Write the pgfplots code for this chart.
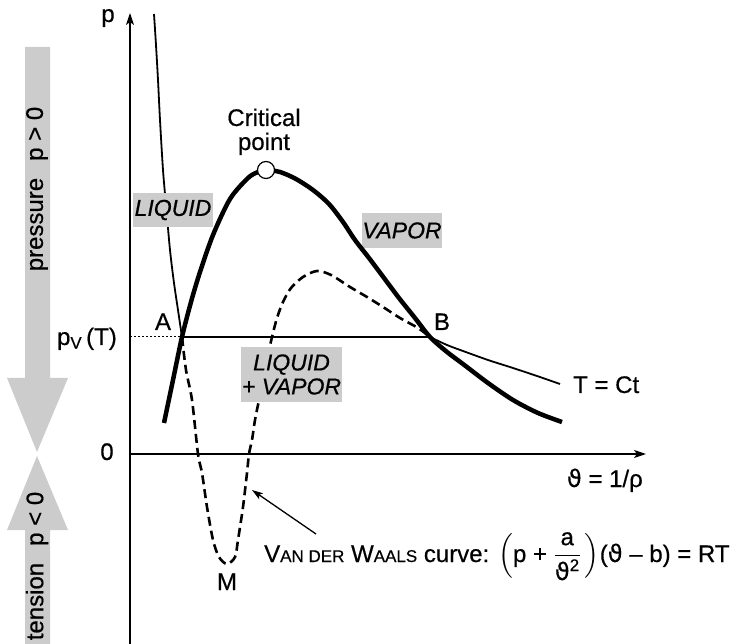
\documentclass[border=0pt]{standalone}
\usepackage{amsmath}
\usepackage{fontspec}
\setmainfont{Liberation Sans}[FakeBold=0.5]
\newfontfamily\dejavu{DejaVu Sans}[FakeBold=0.3]
\usepackage{pgfplots}
\pgfplotsset{compat=1.18}
\usetikzlibrary{arrows.meta}
\definecolor{boxgray}{RGB}{204,204,204}
\newcommand\vth{{\dejavu ϑ}}
\newcommand\smc[1]{{\fontsize{17}{18}\selectfont #1}}

\begin{document}
\begin{tikzpicture}[
  lbl/.style={font=\fontsize{24}{28}\selectfont, inner sep=0pt},
  side/.style={font=\fontsize{24}{28}\selectfont, inner sep=0pt, rotate=90},
  phase/.style={fill=boxgray, inner sep=0pt, font=\fontsize{23}{27}\selectfont\itshape, align=center}]
\begin{axis}[width=737pt, height=644pt, scale only axis,
  xmin=0, xmax=737, ymin=0, ymax=644, y dir=reverse,
  hide axis, clip=false]

% sign of the pressure: grey arrows on the left
\fill[boxgray] (axis cs:25,47) -- (axis cs:50,47) -- (axis cs:50,378) -- (axis cs:68,378)
  -- (axis cs:37,452) -- (axis cs:7,378) -- (axis cs:25,378) -- cycle;
\fill[boxgray] (axis cs:25,644) -- (axis cs:50,644) -- (axis cs:50,530) -- (axis cs:68,530)
  -- (axis cs:37,456) -- (axis cs:7,530) -- (axis cs:25,530) -- cycle;
\node[side] at (axis cs:37,189) {pressure\hspace{17pt}p > 0};
\node[side] at (axis cs:37,566) {tension\hspace{17pt}p < 0};

% vapour region (behind the saturation curve)
\node[phase, minimum width=80pt, minimum height=35pt] at (axis cs:402,230.5) {VAPOR};

% axes
\draw[line width=1.4pt, -{Stealth[length=12pt,width=8pt,inset=3pt]}] (axis cs:130,644) -- (axis cs:130,13);
\draw[line width=1.4pt, -{Stealth[length=12pt,width=8pt,inset=3pt]}] (axis cs:130,454) -- (axis cs:646,454);
\draw[line width=1pt, dash pattern=on 2pt off 2pt] (axis cs:130,337) -- (axis cs:182,337);

% isotherm T = Ct
\addplot[line width=1.8pt, smooth] coordinates {
  (154,14) (156,45) (158,80) (160,120) (163,170) (166,205) (170,250) (174,283) (178,310) (182,337)};
\addplot[line width=2.4pt] coordinates {(182,337) (430,337)};
\addplot[line width=1.8pt, smooth] coordinates {
  (430,337) (447,345) (463,351) (488,360) (513,368) (537,376) (560,384)};

% van der Waals curve
\addplot[line width=2.6pt, smooth, dash pattern=on 9pt off 5pt] coordinates {
  (182,337) (186,370) (192,400) (198,454) (202,473) (207,507) (213,540) (219,557)
  (227,564) (235,557) (238,540) (243,507) (247,473) (249,454) (252,440) (255,420)
  (259,400) (264,375) (268,355) (272,337) (277,318) (283,302) (291,288) (303,277)
  (317,271) (331,275) (350,287) (367,297) (383,307) (400,318) (418,328) (430,337)};

% saturation curve
\addplot[line width=4.5pt, smooth] coordinates {
  (164,423) (173,380) (182,337) (191,302) (200,272) (213,235) (230,199) (248,178)
  (258,172) (266,170) (280,172) (296,179) (313,190) (329,204) (343,222) (355,240)
  (369,258) (384,278) (399,298) (415,318) (430,337) (447,352) (463,364) (488,383)
  (513,400) (538,413) (562,422)};

% critical point
\addplot[only marks, mark=*, mark size=8.5pt, mark options={fill=white, draw=black, line width=1.2pt}]
  coordinates {(266,170)};

% liquid regions, laid over the curves
\node[phase, minimum width=80pt, minimum height=34pt] at (axis cs:173,210) {LIQUID};
\node[phase, minimum width=101pt, minimum height=55pt] at (axis cs:291.5,374.5) {LIQUID\\[-3pt]+ VAPOR};

% labels
\node[lbl, anchor=base] at (axis cs:108,22) {p};
\node[lbl, anchor=base east] at (axis cs:117,345) {p\textsubscript{V}\,(T)};
\node[lbl, anchor=base] at (axis cs:107,460) {0};
\node[lbl, anchor=base] at (axis cs:163,330) {A};
\node[lbl, anchor=base] at (axis cs:442,330) {B};
\node[lbl, anchor=base] at (axis cs:227,590) {M};
\node[lbl, anchor=base west] at (axis cs:573,393) {T = Ct};
\node[lbl, anchor=base east] at (axis cs:643,487) {\vth\ = 1/ρ};
\node[lbl, anchor=base] at (axis cs:264,126) {Critical};
\node[lbl, anchor=base] at (axis cs:264,150) {point};
\draw[line width=1.3pt, -{Stealth[length=11pt,width=7pt,inset=2.5pt]}] (axis cs:316,534) -- (axis cs:252,490);
\node[lbl, anchor=base west] at (axis cs:264,562)
  {V\smc{AN DER} W\smc{AALS} curve: $\left(\text{p + }\genfrac{}{}{1pt}{0}{\text{a}}{\text{\vth\textsuperscript{2}}}\,\right)$(\vth\ – b) = RT};
\end{axis}
\pgfresetboundingbox
\path (0,0) rectangle (737pt,644pt);
\end{tikzpicture}
\end{document}
